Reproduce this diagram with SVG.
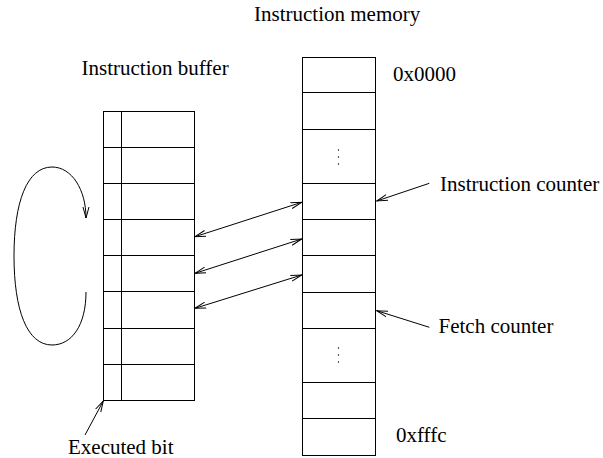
<svg xmlns="http://www.w3.org/2000/svg" width="603" height="458" viewBox="0 0 603 458">
<style>
.t{font-family:"Liberation Serif","Times New Roman",serif;font-size:21px;fill:#000}
.b{fill:none;stroke:#000;stroke-width:1}
.c{fill:none;stroke:#000;stroke-width:1}
</style>
<defs>
<marker id="ah" markerWidth="12" markerHeight="8" viewBox="0 -4 12 8" refX="11" refY="0" orient="auto-start-reverse" markerUnits="userSpaceOnUse">
<path d="M0,-3 L11,0 L0,3" fill="none" stroke="#000" stroke-width="1"/>
</marker>
</defs>
<rect width="603" height="458" fill="#fff"/>
<g id="buffer">
<rect class="b" x="103.5" y="111.5" width="91" height="289"/>
<path class="b" d="M121.5 111.5V400.5M103.5 147.5H194.5M103.5 183.5H194.5M103.5 219.5H194.5M103.5 255.5H194.5M103.5 291.5H194.5M103.5 328.5H194.5M103.5 364.5H194.5"/>
<text class="t" x="81.5" y="75">Instruction buffer</text>
</g>
<g id="memory">
<rect class="b" x="302.5" y="57.5" width="73" height="398"/>
<path class="b" d="M302.5 92.5H375.5M302.5 129.5H375.5M302.5 183.5H375.5M302.5 219.5H375.5M302.5 255.5H375.5M302.5 292.5H375.5M302.5 328.5H375.5M302.5 382.5H375.5M302.5 418.5H375.5"/>
<g fill="#000">
<circle cx="338.5" cy="150" r="0.7"/><circle cx="338.5" cy="157" r="0.7"/><circle cx="338.5" cy="164" r="0.7"/>
<circle cx="338.5" cy="348" r="0.7"/><circle cx="338.5" cy="355" r="0.7"/><circle cx="338.5" cy="362" r="0.7"/>
</g>
<text class="t" x="254" y="20.5">Instruction memory</text>
<text class="t" x="393" y="81">0x0000</text>
<text class="t" x="396" y="441.5">0xfffc</text>
</g>
<g id="labels">
<text class="t" x="440" y="190.5">Instruction counter</text>
<text class="t" x="438.5" y="332.5">Fetch counter</text>
<text class="t" x="68" y="453.5">Executed bit</text>
</g>
<g id="connectors">
<path class="c" d="M195 236.7L301.7 202.3" marker-start="url(#ah)" marker-end="url(#ah)"/>
<path class="c" d="M195 273.3L301.7 239" marker-start="url(#ah)" marker-end="url(#ah)"/>
<path class="c" d="M195 308.3L301.7 275" marker-start="url(#ah)" marker-end="url(#ah)"/>
<path class="c" d="M429.3 183.3L376.7 201" marker-end="url(#ah)"/>
<path class="c" d="M429.3 327.3L376.7 310.7" marker-end="url(#ah)"/>
<path class="c" d="M85 435L103.3 401" marker-end="url(#ah)"/>
<path class="c" d="M86 292C86 325 72 345 52 345C27 345 14 310 14 256C14 202 27 167 52 167C72 167 86 190 86 218" marker-end="url(#ah)"/>
</g>
</svg>
